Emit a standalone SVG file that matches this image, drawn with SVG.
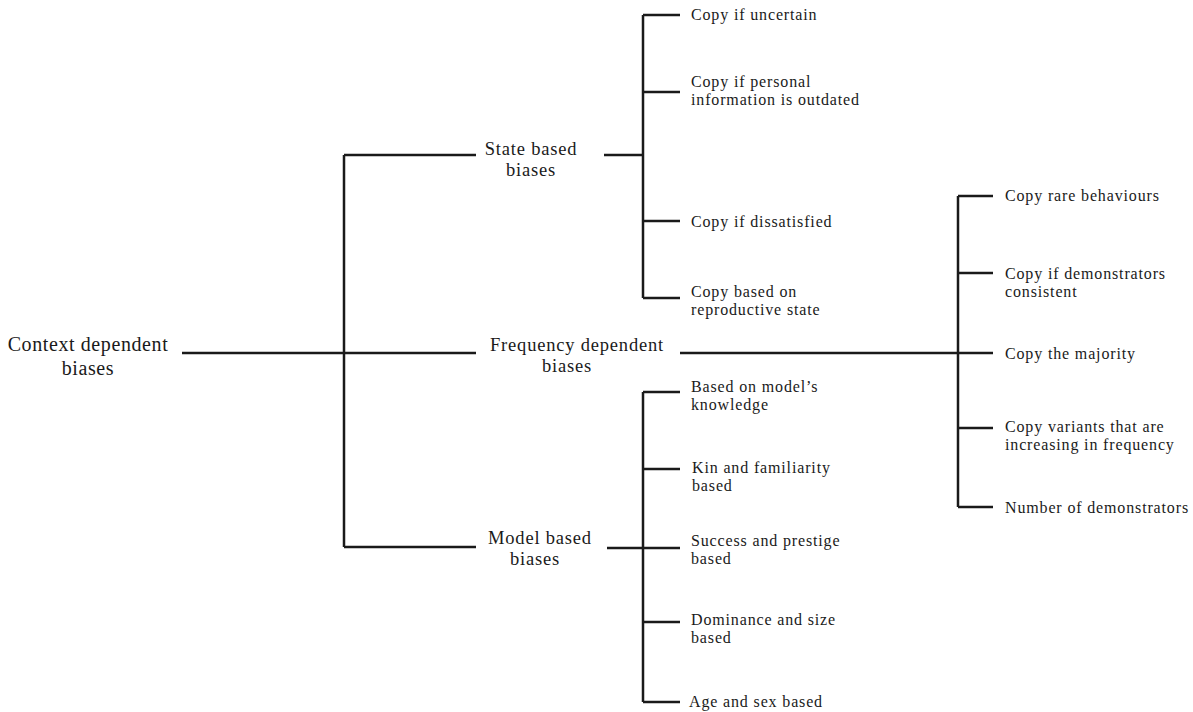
<svg xmlns="http://www.w3.org/2000/svg" width="1193" height="712" viewBox="0 0 1193 712">
<style>
.ln{stroke:#1a1a1a;stroke-width:2.5;fill:none;stroke-linecap:butt}
text{font-family:"Liberation Serif","Times New Roman",serif;fill:#1a1a1a}
.root{font-size:20px;letter-spacing:0.6px;text-anchor:middle}
.mid{font-size:18.5px;letter-spacing:0.8px;text-anchor:middle}
.leaf{font-size:16px;letter-spacing:0.85px}
</style>
<rect width="1193" height="712" fill="#fff"/>
<g id="connectors">
<path class="ln" d="M182,353H476M344,155V547M344,155H476M344,547H476"/>
<path class="ln" d="M604,155H643M643,15V298M643,15H680M643,92H680M643,221H680M643,298H680"/>
<path class="ln" d="M680,353H958M958,196V507M958,196H993M958,273H993M958,428H993M958,507H993M958,353H993"/>
<path class="ln" d="M607,548H643M643,392V702M643,392H680M643,469H680M643,548H680M643,622H680M643,702H680"/>
</g>
<g id="root"><text class="root" x="88" y="351">Context dependent</text><text class="root" x="88" y="375">biases</text></g>
<g id="state"><text class="mid" x="531" y="155">State based</text><text class="mid" x="531" y="176">biases</text></g>
<g id="frequency"><text class="mid" x="577" y="351">Frequency dependent</text><text class="mid" x="567" y="372">biases</text></g>
<g id="model"><text class="mid" x="540" y="544">Model based</text><text class="mid" x="535" y="565">biases</text></g>
<g id="s1"><text class="leaf" x="691" y="20">Copy if uncertain</text></g>
<g id="s2"><text class="leaf" x="691" y="87">Copy if personal</text><text class="leaf" x="691" y="105">information is outdated</text></g>
<g id="s3"><text class="leaf" x="691" y="227">Copy if dissatisfied</text></g>
<g id="s4"><text class="leaf" x="691" y="297">Copy based on</text><text class="leaf" x="691" y="315">reproductive state</text></g>
<g id="m1"><text class="leaf" x="691" y="392">Based on model’s</text><text class="leaf" x="691" y="410">knowledge</text></g>
<g id="m2"><text class="leaf" x="692" y="473">Kin and familiarity</text><text class="leaf" x="692" y="491">based</text></g>
<g id="m3"><text class="leaf" x="691" y="546">Success and prestige</text><text class="leaf" x="691" y="564">based</text></g>
<g id="m4"><text class="leaf" x="691" y="625">Dominance and size</text><text class="leaf" x="691" y="643">based</text></g>
<g id="m5"><text class="leaf" x="689" y="707">Age and sex based</text></g>
<g id="f1"><text class="leaf" x="1005" y="201">Copy rare behaviours</text></g>
<g id="f2"><text class="leaf" x="1005" y="279">Copy if demonstrators</text><text class="leaf" x="1005" y="297">consistent</text></g>
<g id="f3"><text class="leaf" x="1005" y="359">Copy the majority</text></g>
<g id="f4"><text class="leaf" x="1005" y="432">Copy variants that are</text><text class="leaf" x="1005" y="450">increasing in frequency</text></g>
<g id="f5"><text class="leaf" x="1005" y="513">Number of demonstrators</text></g>
</svg>
